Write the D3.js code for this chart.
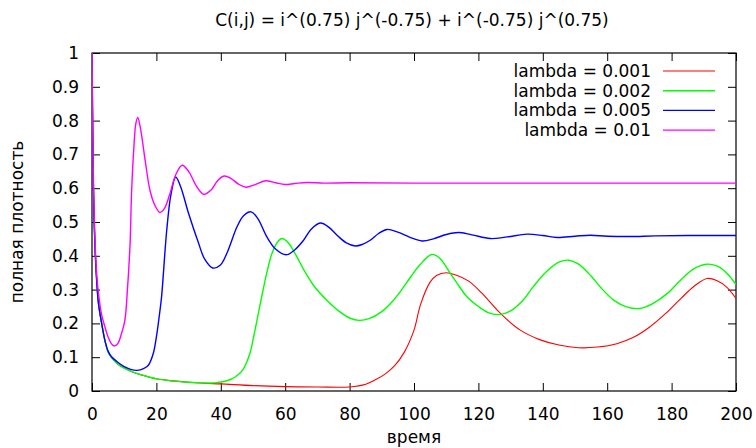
<!DOCTYPE html>
<html>
<head>
<meta charset="utf-8">
<script src="https://cdn.jsdelivr.net/npm/d3@7"></script>
<style>
  body { margin: 0; background: #fff; }
  text { font-family: "DejaVu Sans", sans-serif; font-size: 17px; fill: #000; }
</style>
</head>
<body>
<div id="chart"></div>
<script>

var title = "C(i,j) = i^(0.75) j^(-0.75) + i^(-0.75) j^(0.75)";
var xLabel = "время";
var yLabel = "полная плотность";

var xTicks = [0, 20, 40, 60, 80, 100, 120, 140, 160, 180, 200];
var yTicks = [0, 0.1, 0.2, 0.3, 0.4, 0.5, 0.6, 0.7, 0.8, 0.9, 1];

var seriesNames = ["lambda = 0.001", "lambda = 0.002", "lambda = 0.005", "lambda = 0.01"];
var seriesColors = ["#ff0000", "#00ff00", "#0000ff", "#ff00ff"];

// lambda = 0.001
var tRed = [0, 0.25, 0.5, 1, 1.5, 2, 3, 4, 5, 6, 8, 10, 13, 16, 20, 25, 30, 35, 40, 50, 60, 70, 80,
  85, 88, 91, 94, 97, 100, 102, 105, 107, 110, 113, 117, 121, 127, 133, 139, 145, 151, 157, 163,
  168, 173, 178, 183, 187, 191, 194, 197, 200];
var vRed = [1.0, 0.74, 0.57, 0.41, 0.32, 0.26, 0.2, 0.15, 0.115, 0.1, 0.08, 0.068, 0.055, 0.046, 0.036,
  0.03, 0.026, 0.023, 0.021, 0.016, 0.013, 0.012, 0.012,
  0.02, 0.033, 0.05, 0.075, 0.115, 0.18, 0.255, 0.322, 0.342, 0.35, 0.343, 0.325, 0.29, 0.228, 0.18,
  0.152, 0.136, 0.128, 0.13, 0.14, 0.158, 0.188, 0.228, 0.275, 0.31, 0.333, 0.327, 0.308, 0.274];

// lambda = 0.002
var tGreen = [0, 0.25, 0.5, 1, 1.5, 2, 3, 4, 5, 6, 8, 10, 13, 16, 20, 25, 30, 35, 38, 41, 43, 45, 47,
  49, 50.2, 52.3, 54.3, 56, 58, 59, 61, 63, 65.7, 69, 73, 77, 80, 83, 86, 90, 93, 96, 99, 102,
  105.5, 108, 111, 114, 116.5, 120, 123, 126.3, 130, 134, 137, 141, 145, 148, 151, 155, 158, 162,
  166, 170, 174, 178.6, 183, 187, 190.8, 194, 197, 200];
var vGreen = [1.0, 0.74, 0.57, 0.41, 0.32, 0.26, 0.2, 0.15, 0.115, 0.1, 0.08, 0.068, 0.055, 0.046, 0.036,
  0.03, 0.026, 0.024, 0.024, 0.028, 0.034, 0.045, 0.065,
  0.11, 0.16, 0.26, 0.35, 0.41, 0.445, 0.451, 0.438, 0.408, 0.36, 0.31, 0.268, 0.234, 0.216, 0.209,
  0.214, 0.235, 0.262, 0.297, 0.338, 0.375, 0.404, 0.393, 0.352, 0.31, 0.278, 0.25, 0.232, 0.226, 0.237,
  0.27, 0.308, 0.352, 0.381, 0.387, 0.376, 0.34, 0.306, 0.269, 0.249, 0.244, 0.258, 0.288, 0.33, 0.362,
  0.375, 0.37, 0.35, 0.315];

// lambda = 0.005
var tBlue = [0, 0.25, 0.5, 1, 1.5, 2, 3, 4, 5, 6, 8, 10, 12, 14, 16, 17.5, 19, 20, 21, 21.6, 23.2,
  24.5, 26, 27.5, 30, 33, 35, 37.5, 39.8, 42, 45, 47, 49.4, 51.5, 54.3, 57, 60.3, 63, 65.7, 68,
  70.9, 73.5, 76.1, 79, 81.8, 84, 86.4, 89, 91.6, 95, 98.9, 102.5, 106, 110, 113.8, 118, 123.7,
  129, 135.1, 140, 144.4, 150, 154.8, 160, 167, 175, 185, 200];
var vBlue = [1.0, 0.74, 0.57, 0.41, 0.32, 0.26, 0.2, 0.15, 0.118, 0.102, 0.085, 0.072, 0.064, 0.061,
  0.066, 0.076, 0.11, 0.16, 0.23, 0.278, 0.475, 0.58, 0.633, 0.605, 0.525, 0.44, 0.39, 0.364, 0.372,
  0.41, 0.485, 0.518, 0.53, 0.51, 0.456, 0.42, 0.403, 0.418, 0.446, 0.478, 0.497, 0.485, 0.461,
  0.438, 0.429, 0.434, 0.446, 0.466, 0.478, 0.47, 0.454, 0.444, 0.45, 0.463, 0.469, 0.462, 0.451,
  0.456, 0.464, 0.46, 0.454, 0.458, 0.461, 0.458, 0.457, 0.459, 0.46, 0.46];

// lambda = 0.01
var tMagenta = [0, 0.25, 0.5, 1, 1.5, 2, 3, 4, 5, 6, 6.9, 8, 9, 10.2, 11, 11.8, 12.3, 13, 13.6, 14.2,
  15, 16.5, 18, 19.5, 21.1, 22.5, 24.2, 26, 28, 30, 32.5, 34.7, 37, 39, 41, 43, 45.5, 47.8, 50.5,
  53.9, 57, 60, 63, 66.8, 72, 80, 100, 150, 200];
var vMagenta = [1.0, 0.76, 0.6, 0.43, 0.34, 0.29, 0.225, 0.19, 0.16, 0.14, 0.133, 0.14, 0.165, 0.209,
  0.3, 0.43, 0.59, 0.72, 0.79, 0.809, 0.78, 0.683, 0.594, 0.55, 0.528, 0.54, 0.584, 0.64, 0.668,
  0.65, 0.605, 0.582, 0.595, 0.622, 0.636, 0.63, 0.612, 0.603, 0.61, 0.622, 0.616, 0.611, 0.614,
  0.617, 0.615, 0.616, 0.615, 0.615, 0.615];

var seriesT = [tRed, tGreen, tBlue, tMagenta];
var seriesV = [vRed, vGreen, vBlue, vMagenta];

var width = 756, height = 448;
var plotLeft = 92, plotRight = 736, plotTop = 53, plotBottom = 391;

var svg = d3.select("#chart").append("svg")
    .attr("width", width)
    .attr("height", height);

var x = d3.scaleLinear().domain([0, 200]).range([plotLeft, plotRight]);
var y = d3.scaleLinear().domain([0, 1]).range([plotBottom, plotTop]);

svg.append("defs").append("clipPath").attr("id", "clip")
  .append("rect")
    .attr("x", plotLeft).attr("y", plotTop)
    .attr("width", plotRight - plotLeft).attr("height", plotBottom - plotTop);

// inward ticks on all four sides, gnuplot style
var tickLen = 8;
svg.append("g")
    .attr("transform", "translate(0," + plotBottom + ")")
    .call(d3.axisBottom(x).tickValues(xTicks).tickSizeInner(-tickLen).tickSizeOuter(0).tickPadding(17))
    .call(function(g) { g.select(".domain").remove(); });
svg.append("g")
    .attr("transform", "translate(0," + plotTop + ")")
    .call(d3.axisTop(x).tickValues(xTicks).tickSizeInner(-tickLen).tickSizeOuter(0).tickFormat(""))
    .call(function(g) { g.select(".domain").remove(); });
svg.append("g")
    .attr("transform", "translate(" + plotLeft + ",0)")
    .call(d3.axisLeft(y).tickValues(yTicks).tickSizeInner(-tickLen).tickSizeOuter(0).tickPadding(13)
      .tickFormat(d3.format("")))
    .call(function(g) { g.select(".domain").remove(); });
svg.append("g")
    .attr("transform", "translate(" + plotRight + ",0)")
    .call(d3.axisRight(y).tickValues(yTicks).tickSizeInner(-tickLen).tickSizeOuter(0).tickFormat(""))
    .call(function(g) { g.select(".domain").remove(); });

svg.selectAll(".tick line").attr("stroke", "#000");
svg.selectAll(".tick text")
    .style("font-family", "'DejaVu Sans', sans-serif")
    .style("font-size", "17px")
    .attr("fill", "#000");

svg.append("rect")
    .attr("x", plotLeft).attr("y", plotTop)
    .attr("width", plotRight - plotLeft).attr("height", plotBottom - plotTop)
    .attr("fill", "none")
    .attr("stroke", "#000")
    .attr("stroke-width", 1.2);

var line = d3.line()
    .x(function(d) { return x(d.t); })
    .y(function(d) { return y(d.v); })
    .curve(d3.curveCatmullRom.alpha(0.5));

var plot = svg.append("g").attr("clip-path", "url(#clip)");
seriesNames.forEach(function(name, i) {
  var pts = seriesT[i].map(function(t, k) { return {t: t, v: seriesV[i][k]}; });
  plot.append("path")
      .datum(pts)
      .attr("fill", "none")
      .attr("stroke", seriesColors[i])
      .attr("stroke-width", i == 0 ? 1.1 : 1.4)
      .attr("d", line);
});

// legend
var legend = svg.append("g");
seriesNames.forEach(function(name, i) {
  var ly = 71 + i * 19.7;
  legend.append("text")
      .attr("x", 651)
      .attr("y", ly + 5.8)
      .attr("text-anchor", "end")
      .text(name);
  legend.append("line")
      .attr("x1", 663).attr("x2", 715)
      .attr("y1", ly).attr("y2", ly)
      .attr("stroke", seriesColors[i])
      .attr("stroke-width", i == 0 ? 1.1 : 1.4);
});

svg.append("text")
    .attr("x", 412)
    .attr("y", 26)
    .attr("text-anchor", "middle")
    .text(title);

svg.append("text")
    .attr("x", 414)
    .attr("y", 443)
    .attr("text-anchor", "middle")
    .text(xLabel);

svg.append("text")
    .attr("transform", "translate(23,222) rotate(-90)")
    .attr("text-anchor", "middle")
    .text(yLabel);

</script>
</body>
</html>
